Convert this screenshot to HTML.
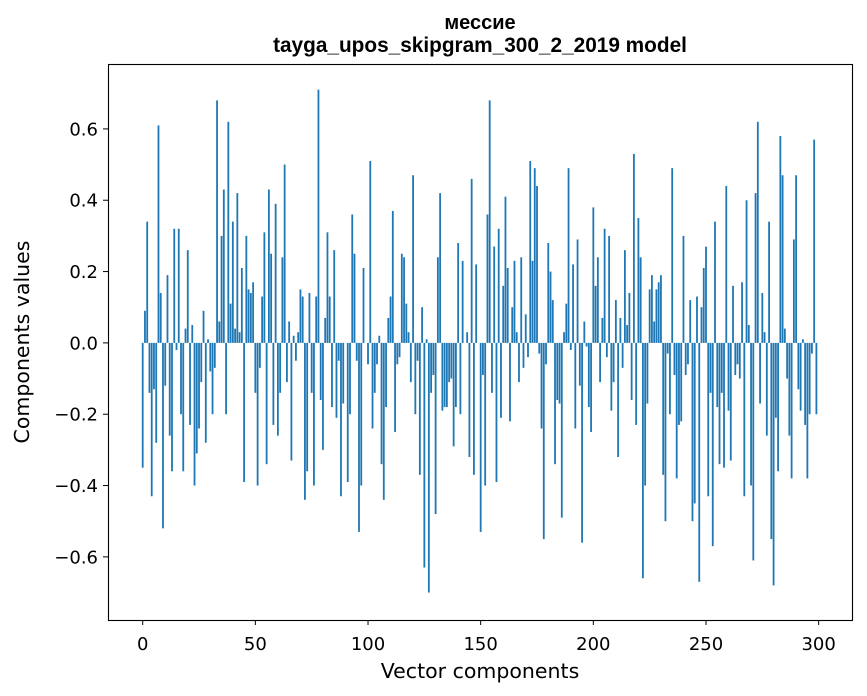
<!DOCTYPE html>
<html><head><meta charset="utf-8"><style>
html,body{margin:0;padding:0;background:#fff}
svg{display:block;font-family:"DejaVu Sans","Liberation Sans",sans-serif}
</style></head><body>
<svg id="chart" width="867" height="696" viewBox="0 0 867 696" xmlns="http://www.w3.org/2000/svg">
<text x="480" y="29" text-anchor="middle" font-size="20" font-weight="bold" font-family="'Liberation Sans',sans-serif">мессие</text>
<text x="480" y="52" text-anchor="middle" font-size="20.8" font-weight="bold" font-family="'Liberation Sans',sans-serif">tayga_upos_skipgram_300_2_2019 model</text>
<g id="bars"></g>
<g id="axes"></g>
<rect x="108.5" y="64.5" width="744" height="556" fill="none" stroke="#000" stroke-width="1.1"/>
<text x="480" y="678" text-anchor="middle" font-size="20.5">Vector components</text>
<text x="29" y="342" text-anchor="middle" font-size="20.5" transform="rotate(-90 29 342)">Components values</text>
</svg>
<script>
const values = [-0.35,0.09,0.34,-0.14,-0.43,-0.13,-0.28,0.61,0.14,-0.52,-0.12,0.19,-0.26,-0.36,0.32,-0.02,0.32,-0.20,-0.36,0.04,0.26,-0.23,0.05,-0.40,-0.31,-0.24,-0.11,0.09,-0.28,0.01,-0.08,-0.20,-0.07,0.68,0.06,0.30,0.43,-0.20,0.62,0.11,0.34,0.04,0.42,0.03,0.21,-0.39,0.30,0.15,0.14,0.17,
-0.14,-0.40,-0.07,0.13,0.31,-0.34,0.43,0.25,-0.23,0.39,-0.26,-0.14,0.24,0.50,-0.11,0.06,-0.33,0.02,-0.05,0.03,0.15,0.13,-0.44,-0.36,0.14,-0.14,-0.40,0.13,0.71,-0.16,-0.30,0.07,0.31,0.13,-0.18,0.26,-0.21,-0.05,-0.43,-0.17,0.0,-0.39,-0.20,0.36,0.25,-0.05,-0.53,-0.40,0.21,0.0,
-0.06,0.51,-0.24,-0.14,-0.06,0.02,-0.34,-0.44,-0.18,0.07,0.13,0.37,-0.25,-0.06,-0.04,0.25,0.24,0.11,0.03,-0.11,0.47,-0.20,-0.05,-0.37,0.10,-0.63,0.01,-0.70,-0.14,-0.09,-0.48,0.24,0.42,-0.19,-0.18,-0.18,-0.11,-0.10,-0.29,-0.18,0.28,-0.20,0.23,0.0,0.03,-0.32,0.46,-0.37,0.22,0.0,
-0.53,-0.09,-0.40,0.36,0.68,-0.14,0.27,-0.39,0.32,-0.21,0.16,0.41,0.21,-0.22,0.10,0.23,0.03,-0.11,0.24,-0.07,0.08,-0.04,0.51,0.23,0.49,0.44,-0.03,-0.24,-0.55,-0.06,0.28,0.20,0.12,-0.34,-0.16,-0.17,-0.49,0.03,0.11,0.49,-0.02,0.22,-0.24,0.29,-0.12,-0.56,0.06,-0.01,-0.18,-0.25,
0.38,0.16,0.24,-0.11,0.07,0.32,-0.04,0.30,-0.19,-0.11,0.12,-0.32,0.07,-0.07,0.26,0.05,0.14,-0.16,0.53,-0.23,0.35,0.24,-0.66,-0.40,-0.17,0.15,0.19,0.06,0.15,0.17,0.19,-0.37,-0.50,-0.03,-0.20,0.49,-0.09,-0.38,-0.23,-0.22,0.30,-0.09,-0.06,0.12,-0.50,-0.45,0.13,-0.67,0.10,0.21,
0.27,-0.43,-0.14,-0.57,0.34,-0.18,-0.34,-0.14,-0.35,0.44,-0.19,-0.33,0.16,-0.09,-0.06,-0.10,0.17,-0.43,0.40,0.05,-0.40,-0.61,0.42,0.62,-0.17,0.14,0.03,-0.26,0.34,-0.55,-0.68,-0.21,-0.36,0.58,0.47,0.04,-0.10,-0.26,-0.38,0.29,0.47,-0.13,-0.19,0.01,-0.23,-0.38,-0.20,-0.03,0.57,-0.20];
const xTicks = [0,50,100,150,200,250,300];
const yTicks = [-0.6,-0.4,-0.2,0.0,0.2,0.4,0.6];
const yTickLabels = ["\u22120.6","\u22120.4","\u22120.2","0.0","0.2","0.4","0.6"];

const L=108, R=852, T=64, B=620;
const xMin=-15.4, xMax=314.8, yMin=-0.777, yMax=0.782;
function xs(v){return L+(v-xMin)/(xMax-xMin)*(R-L);}
function ys(v){return B-(v-yMin)/(yMax-yMin)*(B-T);}
const NS="http://www.w3.org/2000/svg";
const bars=document.getElementById('bars');
values.forEach((v,i)=>{
  const r=document.createElementNS(NS,'rect');
  const x0=xs(i-0.4), x1=xs(i+0.4);
  const y0=ys(Math.max(v,0)), y1=ys(Math.min(v,0));
  r.setAttribute('x',x0);r.setAttribute('width',x1-x0);
  r.setAttribute('y',y0);r.setAttribute('height',Math.max(y1-y0,0.01));
  r.setAttribute('fill','#1f77b4');
  
  
  bars.appendChild(r);
});
const axes=document.getElementById('axes');
xTicks.forEach(t=>{
  const x=xs(t);
  const l=document.createElementNS(NS,'line');
  l.setAttribute('x1',x);l.setAttribute('x2',x);l.setAttribute('y1',B);l.setAttribute('y2',B+5);
  l.setAttribute('stroke','#000');l.setAttribute('stroke-width','1');
  
  
  axes.appendChild(l);
  const tx=document.createElementNS(NS,'text');
  tx.setAttribute('x',x);tx.setAttribute('y',B+30);tx.setAttribute('text-anchor','middle');tx.setAttribute('font-size','18');
  tx.textContent=String(t);
  
  
  axes.appendChild(tx);
});
yTicks.forEach((t,i)=>{
  const y=ys(t);
  const l=document.createElementNS(NS,'line');
  l.setAttribute('x1',L-5);l.setAttribute('x2',L);l.setAttribute('y1',y);l.setAttribute('y2',y);
  l.setAttribute('stroke','#000');l.setAttribute('stroke-width','1');
  
  
  axes.appendChild(l);
  const tx=document.createElementNS(NS,'text');
  tx.setAttribute('x',L-10);tx.setAttribute('y',y+6.5);tx.setAttribute('text-anchor','end');tx.setAttribute('font-size','18');
  tx.textContent=yTickLabels[i];
  
  
  axes.appendChild(tx);
});
</script>
</body></html>
